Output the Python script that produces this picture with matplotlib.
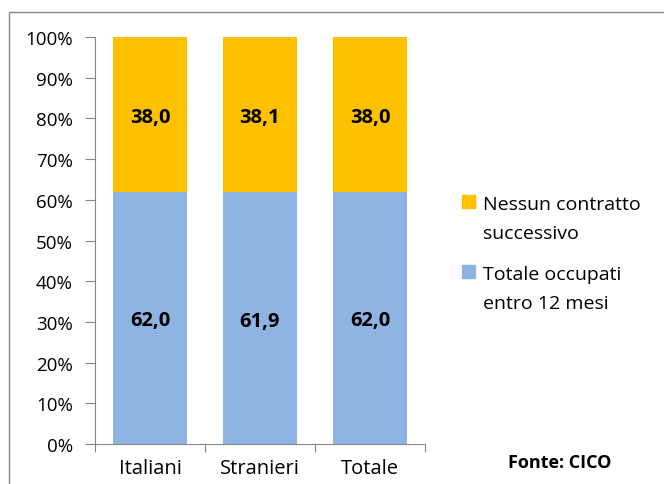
import matplotlib
matplotlib.use("Agg")
import matplotlib.pyplot as plt
from matplotlib.patches import Rectangle

plt.rcParams['font.family'] = ['Open Sans', 'DejaVu Sans']

categorie = ['Italiani', 'Stranieri', 'Totale']
occupati = [62.0, 61.9, 62.0]
nessun_contratto = [38.0, 38.1, 38.0]
etichette_y = ['0%', '10%', '20%', '30%', '40%', '50%', '60%', '70%', '80%', '90%', '100%']
voci_legenda = ['Nessun contratto\nsuccessivo', 'Totale occupati\nentro 12 mesi']

col_blu = '#8DB4E2'
col_arancio = '#FFC000'
grigio = '#868686'

W, H = 664, 485
fig = plt.figure(figsize=(W / 100, H / 100), dpi=100)
ax = fig.add_axes([0.143, 0.0825, 0.497, 0.8391])

x = range(len(categorie))
ax.bar(x, occupati, width=0.67, color=col_blu)
ax.bar(x, nessun_contratto, width=0.67, bottom=occupati, color=col_arancio)

for i in x:
    ax.text(i, occupati[i] / 2, f"{occupati[i]:.1f}".replace('.', ','),
            ha='center', va='center_baseline', fontsize=14.5, fontweight='bold')
    ax.text(i, occupati[i] + nessun_contratto[i] / 2,
            f"{nessun_contratto[i]:.1f}".replace('.', ','),
            ha='center', va='center_baseline', fontsize=14.5, fontweight='bold')

ax.set_xlim(-0.5, 2.5)
ax.set_ylim(0, 100)
ax.set_yticks(range(0, 101, 10))
ax.set_yticklabels(etichette_y, fontsize=13.5)
ax.set_xticks([-0.5, 0.5, 1.5, 2.5])
ax.set_xticklabels([])
ax.set_xticks(list(x), minor=True)
ax.set_xticklabels(categorie, minor=True, fontsize=14.5)
ax.tick_params(axis='x', which='minor', length=0, pad=10)
ax.tick_params(axis='x', which='major', length=6, color=grigio)
ax.tick_params(axis='y', length=7, color=grigio, pad=9)
for s in ['top', 'right']:
    ax.spines[s].set_visible(False)
for s in ['left', 'bottom']:
    ax.spines[s].set_color(grigio)

# legenda fatta a mano: quadratino allineato alla prima riga, righe a 29 px
colori_legenda = [col_arancio, col_blu]
for k, (voce, col) in enumerate(zip(voci_legenda, colori_legenda)):
    yc = 203 + k * 70
    fig.patches.append(Rectangle((462 / W, 1 - (yc + 6) / H), 13 / W, 13 / H,
                                 transform=fig.transFigure, color=col))
    for j, riga in enumerate(voce.split('\n')):
        fig.text(483 / W, 1 - (yc + 29 * j) / H, riga, fontsize=14,
                 va='center_baseline')

fig.text(0.765, 0.035, 'Fonte: CICO', fontsize=13, fontweight='bold')

fig.patches.append(Rectangle((9 / W, -0.1), 1.2, (H - 13) / H + 0.1,
                             transform=fig.transFigure, fill=False,
                             edgecolor=grigio, linewidth=1))

fig.savefig('out.png', dpi=100)
